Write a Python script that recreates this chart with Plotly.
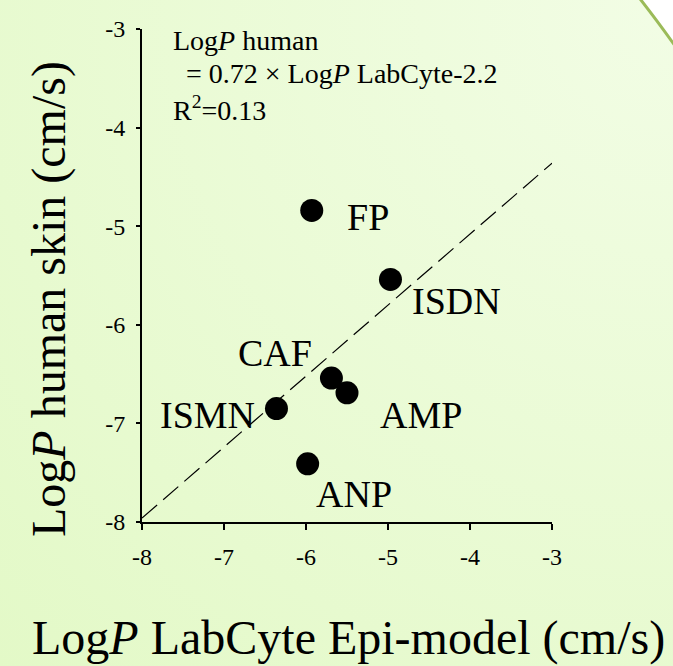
import base64
import plotly.graph_objects as go

# ---- data ----
compounds = ["FP", "ISDN", "CAF", "AMP", "ISMN", "ANP"]
logp_labcyte = [-5.93, -4.97, -5.69, -5.50, -6.36, -5.98]
logp_human = [-4.84, -5.54, -6.54, -6.69, -6.85, -7.41]
fit_x = [-8.0, -3.0]
fit_y = [-7.96, -4.36]
tick_vals = [-8, -7, -6, -5, -4, -3]
tick_text = ["-8", "-7", "-6", "-5", "-4", "-3"]

# label offsets in pixels (dx right, dy up) relative to each point
label_dx = [56, 66, -56, 74, -69, 46]
label_dy = [-7, -22, 25, -22, -6, -30]

W, H = 673, 666
ML, MR, MT, MB = 142, 121, 29, 144
PW, PH = W - ML - MR, H - MT - MB

FONT = "Liberation Serif"

svg = f'''<svg xmlns="http://www.w3.org/2000/svg" width="{W}" height="{H}" viewBox="0 0 {W} {H}">
<defs><radialGradient id="g" cx="673" cy="0" r="950" gradientUnits="userSpaceOnUse">
<stop offset="0" stop-color="#f2fde5"/><stop offset="1" stop-color="#e3f9c7"/></radialGradient></defs>
<rect width="{W}" height="{H}" fill="#ffffff"/>
<path d="M -5 -5 L 637 -5 Q 656 19 678 50 L 678 671 L -5 671 Z" fill="url(#g)"/>
<path d="M 637 -5 Q 656 19 678 50" fill="none" stroke="#9bbb59" stroke-width="3"/>
</svg>'''
bg_src = "data:image/svg+xml;base64," + base64.b64encode(svg.encode()).decode()

fig = go.Figure()

fig.add_trace(go.Scatter(
    x=fit_x, y=fit_y, mode="lines",
    line=dict(color="black", width=1.2, dash="20px,8px"),
    hoverinfo="skip", showlegend=False,
))

fig.add_trace(go.Scatter(
    x=logp_labcyte, y=logp_human, mode="markers",
    marker=dict(size=23, color="black"),
    text=compounds, showlegend=False,
))

annotations = []
for name, xv, yv, dx, dy in zip(compounds, logp_labcyte, logp_human, label_dx, label_dy):
    annotations.append(dict(
        x=xv, y=yv, xref="x", yref="y", text=name, showarrow=False,
        xshift=dx, yshift=dy, xanchor="center", yanchor="middle",
        font=dict(family=FONT, size=38, color="black"),
    ))

def px_to_paper_x(px):
    return (px - ML) / PW

def px_to_paper_y(py):
    return (H - MB - py) / PH

eq_font = dict(family=FONT, size=28, color="black")
annotations += [
    dict(x=px_to_paper_x(171), y=px_to_paper_y(40.5), xref="paper", yref="paper",
         text="Log<i>P</i> human", showarrow=False, xanchor="left", yanchor="middle", font=eq_font),
    dict(x=px_to_paper_x(184), y=px_to_paper_y(73.5), xref="paper", yref="paper",
         text="= 0.72 × Log<i>P</i> LabCyte-2.2", showarrow=False, xanchor="left", yanchor="middle", font=eq_font),
    dict(x=px_to_paper_x(171), y=px_to_paper_y(108.5), xref="paper", yref="paper",
         text="R<sup>2</sup>=0.13", showarrow=False, xanchor="left", yanchor="middle", font=eq_font),
    dict(x=px_to_paper_x(348), y=px_to_paper_y(638), xref="paper", yref="paper",
         text="Log<i>P</i> LabCyte Epi-model (cm/s)", showarrow=False,
         xanchor="center", yanchor="middle", font=dict(family=FONT, size=48, color="black")),
    dict(x=px_to_paper_x(49), y=px_to_paper_y(299), xref="paper", yref="paper",
         text="Log<i>P</i> human skin (cm/s)", showarrow=False, textangle=-90,
         xanchor="center", yanchor="middle", font=dict(family=FONT, size=48, color="black")),
]

axis_common = dict(
    range=[-8, -3], tickvals=tick_vals, ticktext=tick_text,
    showgrid=False, zeroline=False, showline=True, linecolor="black", linewidth=2,
    ticks="outside", tickcolor="black", tickwidth=2,
    tickfont=dict(family=FONT, size=24, color="black"),
)

fig.update_layout(
    width=W, height=H,
    margin=dict(l=ML, r=MR, t=MT, b=MB, pad=0),
    paper_bgcolor="white",
    plot_bgcolor="rgba(0,0,0,0)",
    xaxis=dict(**axis_common, ticklen=6, ticklabelstandoff=6),
    yaxis=dict(**axis_common, ticklen=4, ticklabelstandoff=6),
    annotations=annotations,
    images=[dict(
        source=bg_src, xref="paper", yref="paper",
        x=-ML / PW, y=1 + MT / PH, sizex=W / PW, sizey=H / PH,
        xanchor="left", yanchor="top", sizing="stretch", layer="below",
    )],
    showlegend=False,
)

fig.write_html("out.html")
